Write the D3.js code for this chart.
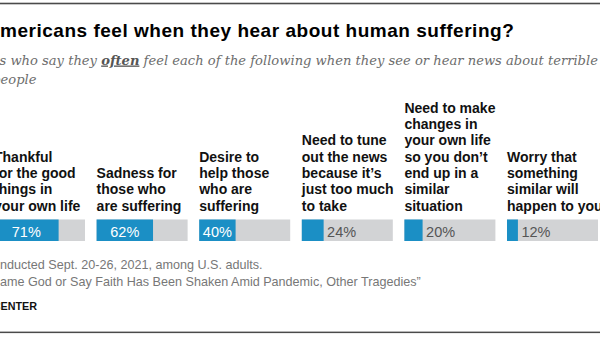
<!DOCTYPE html>
<html>
<head>
<meta charset="utf-8">
<script src="https://cdn.jsdelivr.net/npm/d3@7"></script>
<style>
  html, body { margin: 0; padding: 0; background: #fff; }
  svg { display: block; }
</style>
</head>
<body>
<div id="chart"></div>
<script>
// Survey results: one column per feeling
const categories = ['thankful', 'sadness', 'help', 'tuneOut', 'changes', 'worry'];
const shares = [71, 62, 40, 24, 20, 12];
const labelLines = [
  ['Thankful', 'for the good', 'things in', 'your own life'],
  ['Sadness for', 'those who', 'are suffering'],
  ['Desire to', 'help those', 'who are', 'suffering'],
  ['Need to tune', 'out the news', 'because it\u2019s', 'just too much', 'to take'],
  ['Need to make', 'changes in', 'your own life', 'so you don\u2019t', 'end up in a', 'similar', 'situation'],
  ['Worry that', 'something', 'similar will', 'happen to you'],
];

// Header / footer copy, split as [hidden lead, visible rest]
const titleParts = ['How A', 'mericans feel when they hear about human suffering?'];
const subtitleLine1 = ['% of U.S. adult', 's who say they ', 'often', ' feel each of the following when they see or hear news about terrible things happening'];
const subtitleLine2 = ['to other p', 'eople'];
const sourceLines = [
  ['Source: Survey co', 'nducted Sept. 20-26, 2021, among U.S. adults.'],
  ['\u201cFew Americans Bl', 'ame God or Say Faith Has Been Shaken Amid Pandemic, Other Tragedies\u201d'],
];
const creditParts = ['PEW RESEARCH C', 'ENTER'];

const width = 600;
const height = 337;
const BLUE = '#1b8fc5';
const TRACK = '#d2d3d5';
const SANS = '"Liberation Sans", Arial, sans-serif';
const SERIF = '"DejaVu Serif", Georgia, serif';

const svg = d3.select('#chart')
  .append('svg')
  .attr('width', width)
  .attr('height', height)
  .attr('viewBox', `0 0 ${width} ${height}`);

// top and bottom rules
svg.append('rect').attr('x', 0).attr('y', 2.7).attr('width', width).attr('height', 1.6).attr('fill', '#4a4a4a');
svg.append('rect').attr('x', 0).attr('y', 331.6).attr('width', width).attr('height', 1.5).attr('fill', '#4a4a4a');

// Writes a line whose lead segment runs off the left edge; the
// visible remainder starts at startX.
const clippedLine = (parts, startX, y, styleFn) => {
  const text = svg.append('text').attr('y', y);
  styleFn(text);
  const spans = parts.map((p) => text.append('tspan').text(p));
  const leadWidth = spans[0].node().getComputedTextLength();
  text.attr('x', startX - leadWidth);
  return spans;
};

clippedLine(titleParts, 0, 36.5, (t) => t
  .attr('font-family', SANS)
  .attr('font-weight', 'bold')
  .attr('font-size', 19)
  .attr('letter-spacing', 0.52)
  .attr('fill', '#000'));

const subStyle = (t) => t
  .attr('font-family', SERIF)
  .attr('font-style', 'italic')
  .attr('font-size', 13.1)
  .attr('fill', '#6d6d6d');

const sub1 = clippedLine(subtitleLine1, -0.5, 64.5, subStyle);
sub1[2]
  .attr('font-weight', 'bold')
  .attr('fill', '#555')
  .attr('text-decoration', 'underline');
clippedLine(subtitleLine2, 0.5, 84, subStyle);

// columns
const x = d3.scaleBand()
  .domain(categories)
  .range([-6, 598])
  .paddingInner(0.113);

const barY = 219.5;
const barH = 21.5;
const share = d3.scaleLinear().domain([0, 100]).range([0, x.bandwidth()]);

const data = categories.map((key, i) => ({ key, value: shares[i], lines: labelLines[i] }));

const col = svg.selectAll('g.col')
  .data(data)
  .enter()
  .append('g')
  .attr('class', 'col')
  .attr('transform', (d) => `translate(${x(d.key)},0)`);

const lineH = 16.3;
const lastBaseline = 210.5;

col.append('text')
  .attr('font-family', SANS)
  .attr('font-weight', 'bold')
  .attr('font-size', 14)
  .attr('fill', '#111')
  .selectAll('tspan')
  .data((d) => d.lines.map((l, j) => ({ l, j, n: d.lines.length })))
  .enter()
  .append('tspan')
  .attr('x', 0)
  .attr('y', (d) => lastBaseline - (d.n - 1 - d.j) * lineH)
  .text((d) => d.l);

col.append('rect')
  .attr('y', barY)
  .attr('width', x.bandwidth())
  .attr('height', barH)
  .attr('fill', TRACK);

col.append('rect')
  .attr('y', barY)
  .attr('width', (d) => share(d.value))
  .attr('height', barH)
  .attr('fill', BLUE);

// value labels: inside the bar when it is wide enough, otherwise just past it
col.append('text')
  .attr('font-family', SANS)
  .attr('font-size', 14.5)
  .attr('y', 236.7)
  .attr('x', (d) => (d.value >= 30 ? share(d.value) / 2 : share(d.value) + 3.5))
  .attr('text-anchor', (d) => (d.value >= 30 ? 'middle' : 'start'))
  .attr('fill', (d) => (d.value >= 30 ? '#fff' : '#555'))
  .text((d) => `${d.value}%`);

// source notes
const noteStyle = (t) => t
  .attr('font-family', SANS)
  .attr('font-size', 12.6)
  .attr('fill', '#777');

clippedLine(sourceLines[0], 0, 268.5, noteStyle);
clippedLine(sourceLines[1], 0, 285.5, noteStyle);

clippedLine(creditParts, 0.5, 310, (t) => t
  .attr('font-family', SANS)
  .attr('font-weight', 'bold')
  .attr('font-size', 10.8)
  .attr('fill', '#111'));
</script>
</body>
</html>
